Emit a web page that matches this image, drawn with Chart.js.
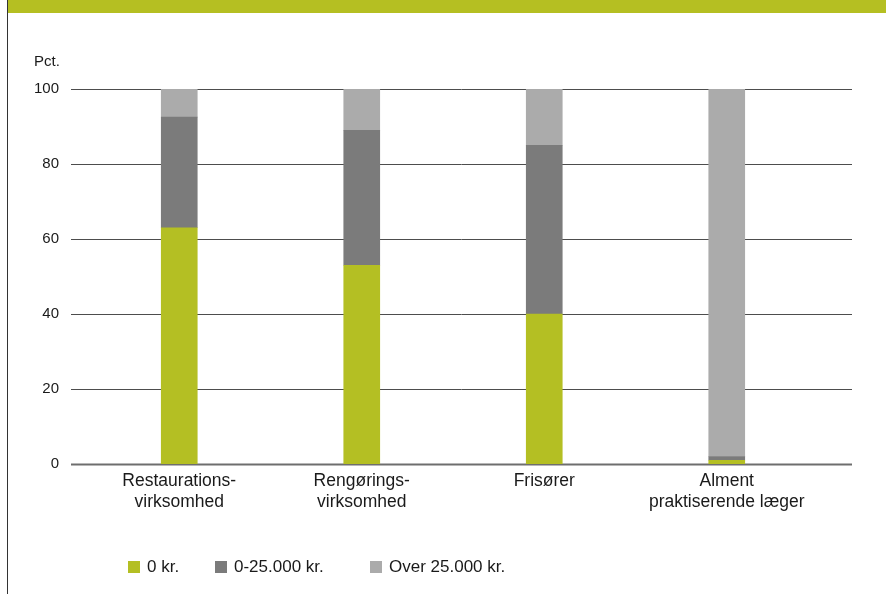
<!DOCTYPE html>
<html>
<head>
<meta charset="utf-8">
<script src="https://cdn.jsdelivr.net/npm/chart.js@4.4.1/dist/chart.umd.min.js"></script>
<style>
  html, body { margin: 0; padding: 0; background: #fff; }
  body { width: 886px; height: 594px; position: relative; overflow: hidden; font-family: "Liberation Sans", Arial, sans-serif; }
  #banner { position: absolute; left: 8px; top: 0; width: 878px; height: 13px; background: #b5bf22; }
  #frame { position: absolute; left: 7px; top: 0; width: 1px; height: 594px; background: #333; }
  #wrap { position: absolute; left: 0; top: 0; width: 886px; height: 594px; }
  #unit { position: absolute; left: 34px; top: 52px; font-size: 15px; color: #1a1a1a; }
  #legend { position: absolute; top: 557px; left: 0; width: 886px; height: 20px; font-size: 17px; color: #1a1a1a; }
  .li { position: absolute; top: 0; height: 20px; line-height: 20px; white-space: nowrap; }
  .sw { display: inline-block; width: 12px; height: 12px; vertical-align: -1px; margin-right: 7px; }
</style>
</head>
<body>
<div id="banner"></div>
<div id="frame"></div>
<div id="wrap"><canvas id="c" width="886" height="594"></canvas></div>
<div id="unit">Pct.</div>
<div id="legend"></div>
<script>
const categories = [["Restaurations-", "virksomhed"], ["Rengørings-", "virksomhed"], ["Frisører"], ["Alment", "praktiserende læger"]];
const seriesNames = ["0 kr.", "0-25.000 kr.", "Over 25.000 kr."];
const zeroKr = [63, 53, 40, 1];
const upTo25k = [29.5, 36, 45, 1];
const over25k = [7.5, 11, 15, 98];
const yTicks = [0, 20, 40, 60, 80, 100];

const colors = ["#b4bf23", "#7b7b7b", "#ababab"];
const seriesValues = [zeroKr, upTo25k, over25k];

const gridPlugin = {
  id: 'extGrid',
  beforeDatasetsDraw(chart) {
    const ctx = chart.ctx;
    const y = chart.scales.y;
    ctx.save();
    y.ticks.forEach(t => {
      const py = Math.round(y.getPixelForValue(t.value)) + 0.5;
      ctx.beginPath();
      if (t.value === 0) { ctx.strokeStyle = '#6e6e6e'; ctx.lineWidth = 2; }
      else { ctx.strokeStyle = '#4d4d4d'; ctx.lineWidth = 1; }
      ctx.moveTo(71, py);
      ctx.lineTo(852, py);
      ctx.stroke();
    });
    ctx.restore();
  }
};

new Chart(document.getElementById('c'), {
  type: 'bar',
  data: {
    labels: categories,
    datasets: seriesNames.map((n, i) => ({
      label: n,
      data: seriesValues[i],
      backgroundColor: colors[i],
      borderWidth: 0,
      barThickness: 36
    }))
  },
  options: {
    responsive: false,
    animation: false,
    events: [],
    layout: { padding: { left: 0, right: 68, top: 89, bottom: 30 } },
    plugins: { legend: { display: false }, tooltip: { enabled: false }, title: { display: false } },
    scales: {
      x: {
        stacked: true,
        grid: { display: false, drawTicks: false },
        border: { display: false },
        ticks: { color: '#1a1a1a', font: { family: '"Liberation Sans", Arial, sans-serif', size: 17.5, lineHeight: 1.2 }, padding: 7, maxRotation: 0, autoSkip: false },
        afterFit(s) { s.height = 100; }
      },
      y: {
        stacked: true,
        min: 0, max: 100,
        afterBuildTicks(s) { s.ticks = yTicks.map(v => ({ value: v })); },
        grid: { display: false, drawTicks: false },
        border: { display: false },
        ticks: { color: '#1a1a1a', font: { family: '"Liberation Sans", Arial, sans-serif', size: 15 }, padding: 29 },
        afterFit(s) { s.width = 88; }
      }
    }
  },
  plugins: [gridPlugin]
});

const legendPos = [128, 215, 370];
const leg = document.getElementById('legend');
seriesNames.forEach((n, i) => {
  const d = document.createElement('div');
  d.className = 'li';
  d.style.left = legendPos[i] + 'px';
  d.innerHTML = '<span class="sw" style="background:' + colors[i] + '"></span>' + n;
  leg.appendChild(d);
});
</script>
</body>
</html>
